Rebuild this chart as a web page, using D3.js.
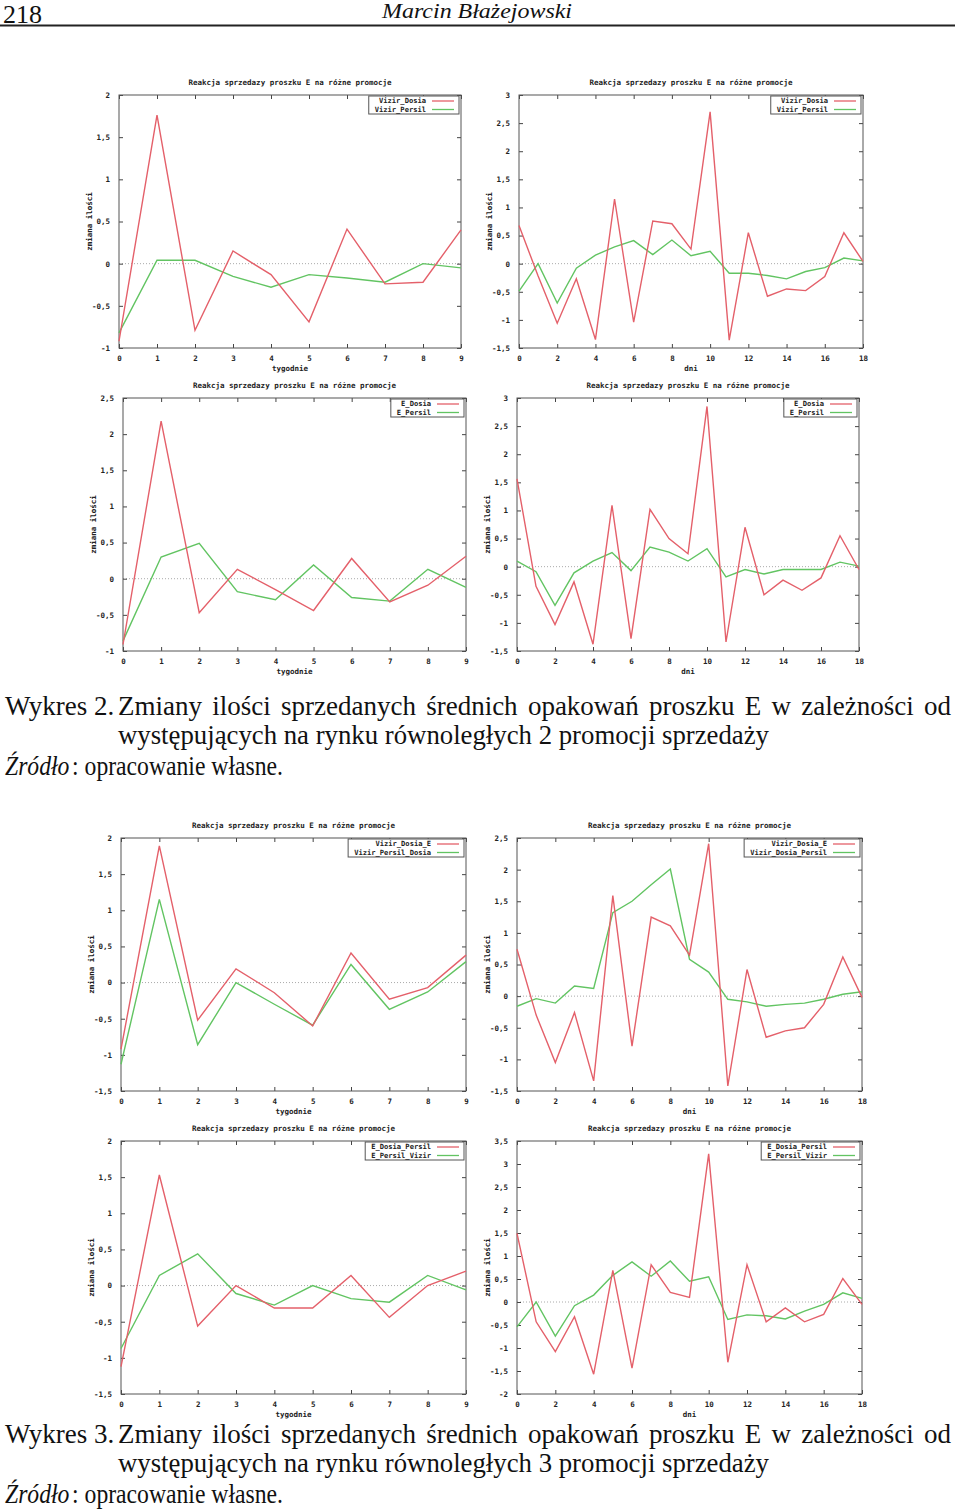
<!DOCTYPE html>
<html><head><meta charset="utf-8">
<script src="https://cdn.jsdelivr.net/npm/d3@7"></script>
<style>body{margin:0;background:#fff}svg{display:block}</style>
</head><body>
<svg id="page" width="960" height="1509"></svg>
<script>
// ---------- DATA ----------
const weeks = [0,1,2,3,4,5,6,7,8,9];
const days = [0,1,2,3,4,5,6,7,8,9,10,11,12,13,14,15,16,17,18];
const weekTicks = [0,1,2,3,4,5,6,7,8,9];
const dayTicks = [0,2,4,6,8,10,12,14,16,18];

const chartTitle = "Reakcja sprzedazy proszku E na różne promocje";
const yAxisLabel = "zmiana ilości";
const xLabelWeeks = "tygodnie";
const xLabelDays = "dni";

// Wykres 2
const p1_labels = ["Vizir_Dosia", "Vizir_Persil"];
const p1_red   = [-0.92, 1.76, -0.79, 0.15, -0.13, -0.69, 0.41, -0.24, -0.22, 0.40];
const p1_green = [-0.82, 0.04, 0.04, -0.15, -0.28, -0.13, -0.17, -0.22, 0.00, -0.05];
const p1_yTicks = [-1, -0.5, 0, 0.5, 1, 1.5, 2];

const p2_labels = ["Vizir_Dosia", "Vizir_Persil"];
const p2_red   = [0.68, -0.22, -1.06, -0.27, -1.35, 1.15, -1.04, 0.76, 0.71, 0.26, 2.70, -1.36, 0.55, -0.58, -0.45, -0.48, -0.23, 0.55, 0.04];
const p2_green = [-0.49, 0.00, -0.70, -0.08, 0.15, 0.30, 0.41, 0.16, 0.42, 0.14, 0.22, -0.17, -0.17, -0.21, -0.27, -0.14, -0.07, 0.10, 0.05];
const p2_yTicks = [-1.5, -1, -0.5, 0, 0.5, 1, 1.5, 2, 2.5, 3];

const p3_labels = ["E_Dosia", "E_Persil"];
const p3_red   = [-0.91, 2.18, -0.47, 0.13, -0.15, -0.44, 0.28, -0.32, -0.09, 0.31];
const p3_green = [-0.86, 0.30, 0.49, -0.18, -0.29, 0.19, -0.26, -0.31, 0.13, -0.12];
const p3_yTicks = [-1, -0.5, 0, 0.5, 1, 1.5, 2, 2.5];

const p4_labels = ["E_Dosia", "E_Persil"];
const p4_red   = [1.56, -0.35, -1.03, -0.27, -1.38, 1.09, -1.28, 1.02, 0.50, 0.23, 2.85, -1.34, 0.70, -0.50, -0.24, -0.42, -0.20, 0.55, -0.05];
const p4_green = [0.10, -0.09, -0.69, -0.11, 0.10, 0.25, -0.07, 0.35, 0.26, 0.10, 0.32, -0.18, -0.05, -0.13, -0.05, -0.05, -0.05, 0.08, 0.01];
const p4_yTicks = [-1.5, -1, -0.5, 0, 0.5, 1, 1.5, 2, 2.5, 3];

// Wykres 3
const p5_labels = ["Vizir_Dosia_E", "Vizir_Persil_Dosia"];
const p5_red   = [-0.92, 1.89, -0.52, 0.19, -0.14, -0.60, 0.41, -0.23, -0.07, 0.38];
const p5_green = [-1.13, 1.15, -0.86, 0.00, -0.30, -0.59, 0.25, -0.37, -0.13, 0.29];
const p5_yTicks = [-1.5, -1, -0.5, 0, 0.5, 1, 1.5, 2];

const p6_labels = ["Vizir_Dosia_E", "Vizir_Dosia_Persil"];
const p6_red   = [0.74, -0.30, -1.05, -0.26, -1.34, 1.59, -0.79, 1.25, 1.11, 0.65, 2.41, -1.42, 0.42, -0.65, -0.55, -0.50, -0.13, 0.62, -0.02];
const p6_green = [-0.16, -0.04, -0.11, 0.16, 0.12, 1.32, 1.50, 1.76, 2.01, 0.58, 0.38, -0.05, -0.09, -0.16, -0.13, -0.11, -0.05, 0.03, 0.07];
const p6_yTicks = [-1.5, -1, -0.5, 0, 0.5, 1, 1.5, 2, 2.5];

const p7_labels = ["E_Dosia_Persil", "E_Persil_Vizir"];
const p7_red   = [-1.12, 1.53, -0.56, 0.00, -0.31, -0.31, 0.14, -0.44, 0.00, 0.20];
const p7_green = [-0.87, 0.14, 0.44, -0.11, -0.27, 0.00, -0.18, -0.23, 0.14, -0.06];
const p7_yTicks = [-1.5, -1, -0.5, 0, 0.5, 1, 1.5, 2];

const p8_labels = ["E_Dosia_Persil", "E_Persil_Vizir"];
const p8_red   = [1.49, -0.43, -1.08, -0.32, -1.57, 0.69, -1.44, 0.81, 0.21, 0.10, 3.22, -1.31, 0.81, -0.43, -0.13, -0.43, -0.27, 0.51, -0.05];
const p8_green = [-0.54, 0.00, -0.74, -0.08, 0.15, 0.58, 0.87, 0.56, 0.89, 0.45, 0.55, -0.38, -0.28, -0.30, -0.37, -0.20, -0.05, 0.20, 0.08];
const p8_yTicks = [-2, -1.5, -1, -0.5, 0, 0.5, 1, 1.5, 2, 2.5, 3, 3.5];

const header = {page: "218", author: "Marcin Błażejowski"};
const caption2 = {lead: "Wykres 2.", words: "Zmiany ilości sprzedanych średnich opakowań proszku E w zależności od", line2: "występujących na rynku równoległych 2 promocji sprzedaży"};
const caption3 = {lead: "Wykres 3.", words: "Zmiany ilości sprzedanych średnich opakowań proszku E w zależności od", line2: "występujących na rynku równoległych 3 promocji sprzedaży"};
const sourceItalic = "Źródło";
const sourceRest = ": opracowanie własne.";

// ---------- STYLE / LAYOUT ----------
const RED = "#e4606a", GREEN = "#62c462";
const MONO = "'DejaVu Sans Mono', monospace";
const SERIF = "'Liberation Serif', 'Times New Roman', serif";
const FS = 7.5;
const svg = d3.select("#page");

const panels = [
  {L:119, R:461, T:95,  B:348,  xs:weeks, xt:weekTicks, xl:xLabelWeeks, yd:[-1,2],    yt:p1_yTicks, lab:p1_labels, s:[p1_red,p1_green]},
  {L:519, R:863, T:95,  B:348,  xs:days,  xt:dayTicks,  xl:xLabelDays,  yd:[-1.5,3],  yt:p2_yTicks, lab:p2_labels, s:[p2_red,p2_green]},
  {L:123, R:466, T:398, B:651,  xs:weeks, xt:weekTicks, xl:xLabelWeeks, yd:[-1,2.5],  yt:p3_yTicks, lab:p3_labels, s:[p3_red,p3_green]},
  {L:517, R:859, T:398, B:651,  xs:days,  xt:dayTicks,  xl:xLabelDays,  yd:[-1.5,3],  yt:p4_yTicks, lab:p4_labels, s:[p4_red,p4_green]},
  {L:121, R:466, T:838, B:1091, xs:weeks, xt:weekTicks, xl:xLabelWeeks, yd:[-1.5,2],  yt:p5_yTicks, lab:p5_labels, s:[p5_red,p5_green]},
  {L:517, R:862, T:838, B:1091, xs:days,  xt:dayTicks,  xl:xLabelDays,  yd:[-1.5,2.5],yt:p6_yTicks, lab:p6_labels, s:[p6_red,p6_green]},
  {L:121, R:466, T:1141,B:1394, xs:weeks, xt:weekTicks, xl:xLabelWeeks, yd:[-1.5,2],  yt:p7_yTicks, lab:p7_labels, s:[p7_red,p7_green]},
  {L:517, R:862, T:1141,B:1394, xs:days,  xt:dayTicks,  xl:xLabelDays,  yd:[-2,3.5],  yt:p8_yTicks, lab:p8_labels, s:[p8_red,p8_green]}
];

const fmt = v => String(v).replace(".", ",");

panels.forEach(p => {
  const g = svg.append("g");
  const x = d3.scaleLinear().domain([p.xs[0], p.xs[p.xs.length-1]]).range([p.L, p.R]);
  const y = d3.scaleLinear().domain(p.yd).range([p.B, p.T]);

  g.append("line").attr("x1", p.L).attr("x2", p.R).attr("y1", y(0)).attr("y2", y(0))
    .attr("stroke", "#aaa").attr("stroke-width", 1).attr("stroke-dasharray", "1,2");

  const styleAxis = (sel, labels) => {
    sel.select(".domain").remove();
    sel.selectAll(".tick line").attr("stroke", "#444").attr("stroke-width", 1);
    sel.selectAll(".tick text").attr("font-family", MONO).attr("font-weight", "bold")
      .attr("font-size", FS).attr("fill", "#222");
    if (!labels) sel.selectAll(".tick text").remove();
  };
  g.append("g").attr("transform", `translate(0,${p.B})`)
    .call(d3.axisBottom(x).tickValues(p.xt).tickSize(-4).tickPadding(8).tickFormat(fmt))
    .call(s => styleAxis(s, true));
  g.append("g").attr("transform", `translate(0,${p.T})`)
    .call(d3.axisTop(x).tickValues(p.xt).tickSize(-4).tickFormat(""))
    .call(s => styleAxis(s, false));
  g.append("g").attr("transform", `translate(${p.L},0)`)
    .call(d3.axisLeft(y).tickValues(p.yt).tickSize(-4).tickPadding(9).tickFormat(fmt))
    .call(s => styleAxis(s, true));
  g.append("g").attr("transform", `translate(${p.R},0)`)
    .call(d3.axisRight(y).tickValues(p.yt).tickSize(-4).tickFormat(""))
    .call(s => styleAxis(s, false));

  g.append("rect").attr("x", p.L).attr("y", p.T).attr("width", p.R - p.L).attr("height", p.B - p.T)
    .attr("fill", "none").attr("stroke", "#555").attr("stroke-width", 1);

  const colors = [RED, GREEN];
  const line = d3.line().x((d, i) => x(p.xs[i])).y(d => y(d));
  [1, 0].forEach(idx => {
    g.append("path").datum(p.s[idx]).attr("d", line).attr("fill", "none")
      .attr("stroke", colors[idx]).attr("stroke-width", 1.4);
  });

  const txt = (xx, yy, t, anchor) => g.append("text").attr("x", xx).attr("y", yy).attr("text-anchor", anchor || "middle")
    .attr("font-family", MONO).attr("font-weight", "bold").attr("font-size", FS).attr("fill", "#222").text(t);
  txt((p.L + p.R) / 2, p.T - 10, chartTitle);
  txt((p.L + p.R) / 2, p.B + 23, p.xl);
  g.append("text").attr("transform", `translate(${p.L - 30},${(p.T + p.B) / 2}) rotate(-90)`)
    .attr("text-anchor", "middle").attr("dy", "0.35em")
    .attr("font-family", MONO).attr("font-weight", "bold").attr("font-size", FS).attr("fill", "#222")
    .text(yAxisLabel);

  const lg = g.append("g");
  const boxR = p.R - 2, boxT = p.T + 1;
  const texts = p.lab.map((t, i) => lg.append("text").attr("x", boxR - 33).attr("y", boxT + 5 + i * 8.5)
    .attr("dy", "0.35em").attr("text-anchor", "end")
    .attr("font-family", MONO).attr("font-weight", "bold").attr("font-size", 7.1).attr("fill", "#222").text(t));
  const maxW = d3.max(texts, t => t.node().getComputedTextLength());
  lg.insert("rect", "text").attr("x", boxR - 33 - maxW - 6).attr("y", boxT).attr("width", maxW + 39).attr("height", 18)
    .attr("fill", "#fff").attr("stroke", "#555").attr("stroke-width", 1);
  p.lab.forEach((t, i) => {
    lg.append("line").attr("x1", boxR - 27).attr("x2", boxR - 5)
      .attr("y1", boxT + 5 + i * 8.5).attr("y2", boxT + 5 + i * 8.5)
      .attr("stroke", colors[i]).attr("stroke-width", 1.3);
  });
});

// ---------- HEADER ----------
svg.append("text").attr("x", 3).attr("y", 23).attr("font-family", SERIF).attr("font-size", 26).attr("fill", "#111")
  .text(header.page);
svg.append("text").attr("x", 382).attr("y", 18).attr("font-family", SERIF).attr("font-style", "italic")
  .attr("font-size", 20).attr("fill", "#111").attr("textLength", 190).attr("lengthAdjust", "spacingAndGlyphs")
  .text(header.author);
svg.append("line").attr("x1", 0).attr("x2", 955).attr("y1", 25.5).attr("y2", 25.5).attr("stroke", "#222").attr("stroke-width", 2);

// ---------- CAPTIONS ----------
function caption(c, base) {
  const fs = 27;
  svg.append("text").attr("x", 5).attr("y", base).attr("font-family", SERIF).attr("font-size", fs).attr("fill", "#111")
    .text(c.lead);
  const words = c.words.split(" ");
  const nodes = words.map(w => svg.append("text").attr("y", base).attr("font-family", SERIF)
    .attr("font-size", fs).attr("fill", "#111").text(w));
  const widths = nodes.map(n => n.node().getComputedTextLength());
  const x0 = 118, x1 = 951;
  const gap = (x1 - x0 - d3.sum(widths)) / (words.length - 1);
  let cx = x0;
  nodes.forEach((n, i) => { n.attr("x", cx); cx += widths[i] + gap; });
  svg.append("text").attr("x", 118).attr("y", base + 29).attr("font-family", SERIF).attr("font-size", fs)
    .attr("fill", "#111").attr("textLength", 651).attr("lengthAdjust", "spacingAndGlyphs").text(c.line2);
  // source line: natural layout, horizontally scaled to the reference width
  const sg = svg.append("g");
  const it = sg.append("text").attr("x", 0).attr("y", 0).attr("font-family", SERIF).attr("font-size", fs)
    .attr("font-style", "italic").attr("fill", "#111").text(sourceItalic);
  const iw = it.node().getComputedTextLength();
  const rt = sg.append("text").attr("x", iw + 3).attr("y", 0).attr("font-family", SERIF).attr("font-size", fs)
    .attr("fill", "#111").text(sourceRest);
  const total = iw + 3 + rt.node().getComputedTextLength();
  sg.attr("transform", `translate(5,${base + 60}) scale(${278 / total},1)`);
}
caption(caption2, 715);
caption(caption3, 1443);
</script>
</body></html>
